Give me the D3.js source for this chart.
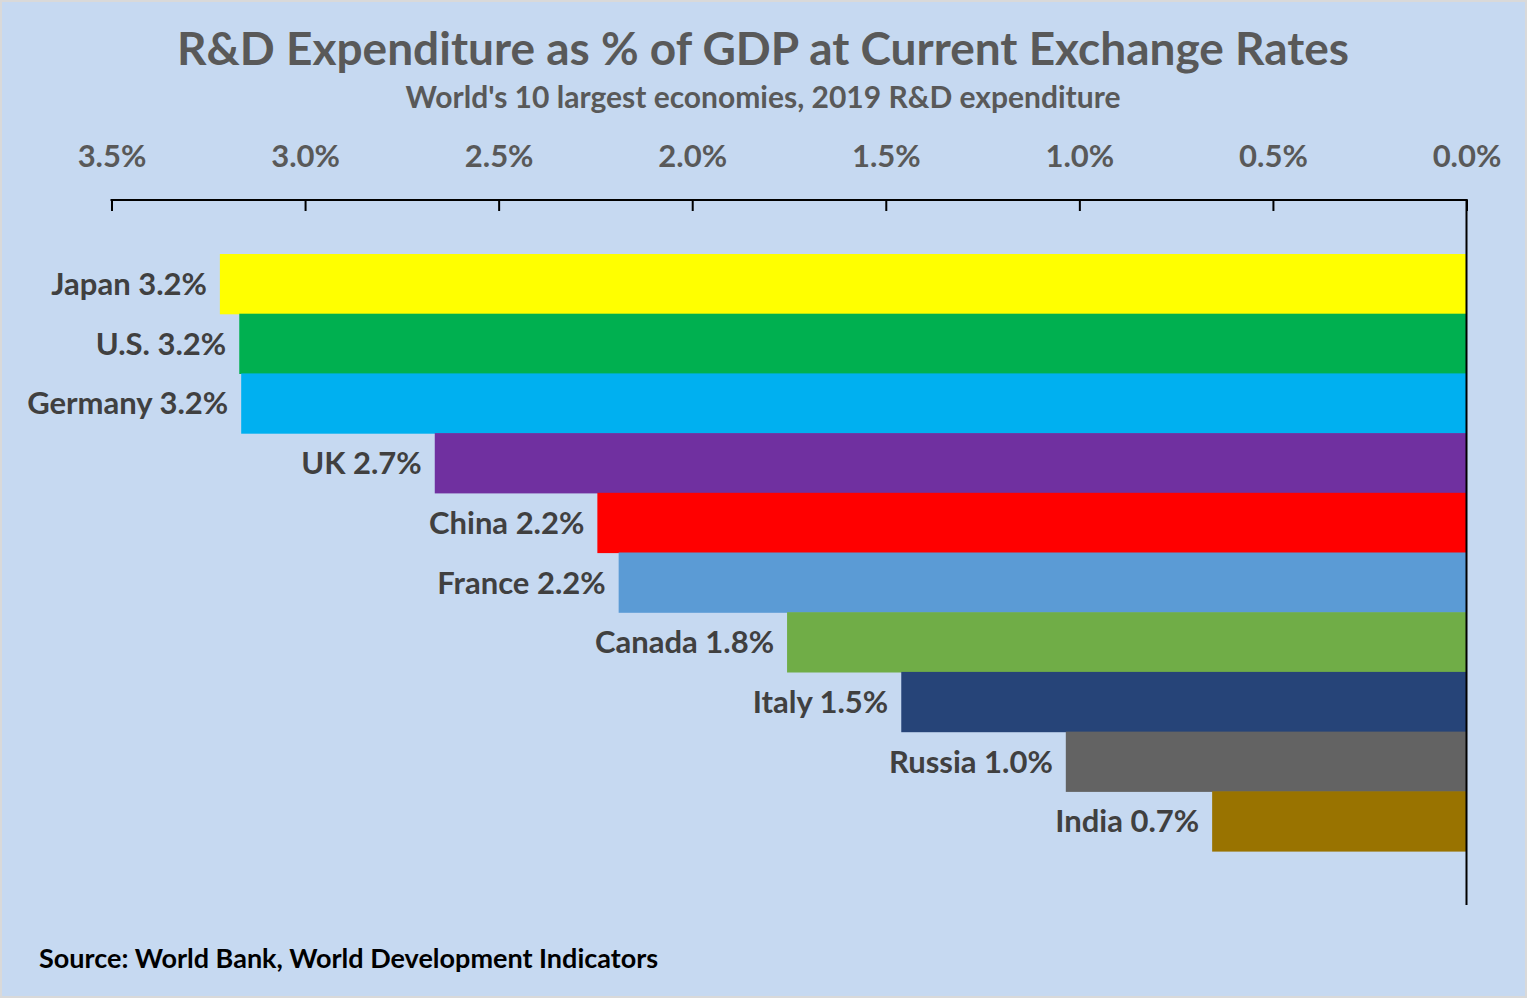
<!DOCTYPE html>
<html>
<head>
<meta charset="utf-8">
<script src="https://cdn.jsdelivr.net/npm/d3@7"></script>
<style>
  html, body { margin: 0; padding: 0; background: #ffffff; }
  svg { display: block; }
  text { font-family: Lato, "Open Sans", sans-serif; font-weight: 700; }
</style>
</head>
<body>
<svg id="chart" width="1527" height="998"></svg>
<script>
const countries = ["Japan", "U.S.", "Germany", "UK", "China", "France", "Canada", "Italy", "Russia", "India"];
const values = [3.22, 3.17, 3.165, 2.665, 2.245, 2.19, 1.755, 1.46, 1.035, 0.657];
const labelValues = ["3.2%", "3.2%", "3.2%", "2.7%", "2.2%", "2.2%", "1.8%", "1.5%", "1.0%", "0.7%"];
const colors = ["#ffff00", "#00b050", "#00b0f0", "#7030a0", "#ff0000", "#5b9bd5", "#70ad47", "#264478", "#636363", "#997300"];
const tickValues = [3.5, 3.0, 2.5, 2.0, 1.5, 1.0, 0.5, 0.0];
const titleText = "R&D Expenditure as % of GDP at Current Exchange Rates";
const subtitleText = "World's 10 largest economies, 2019 R&D expenditure";
const sourceText = "Source: World Bank, World Development Indicators";

const svg = d3.select("#chart");
const W = 1527, H = 998;

// background + frame
svg.append("rect").attr("x", 0).attr("y", 0).attr("width", W).attr("height", H).attr("fill", "#d9d9d9");
svg.append("rect").attr("x", 2).attr("y", 2).attr("width", W - 4).attr("height", H - 4).attr("fill", "#c6d9f1");

const x = d3.scaleLinear().domain([0, 3.5]).range([1466.5, 111.5]);
const y = d3.scaleBand().domain(countries).range([254, 851]).padding(0);

// bars
svg.append("g").selectAll("rect").data(countries).join("rect")
  .attr("x", (d, i) => x(values[i]))
  .attr("y", d => y(d))
  .attr("width", (d, i) => x(0) - x(values[i]))
  .attr("height", y.bandwidth() + 0.6)
  .attr("fill", (d, i) => colors[i]);

// bar labels
svg.append("g").selectAll("text").data(countries).join("text")
  .attr("x", (d, i) => x(values[i]) - 13)
  .attr("y", d => y(d) + y.bandwidth() / 2)
  .attr("dy", "0.36em")
  .attr("text-anchor", "end")
  .attr("fill", "#404040")
  .attr("font-size", 31)
  .text((d, i) => d + " " + labelValues[i]);

// top axis
const axis = d3.axisTop(x).tickValues(tickValues).tickSize(0).tickFormat(d => d3.format(".1f")(d) + "%");
const gAxis = svg.append("g").attr("transform", "translate(0,200)").call(axis);
gAxis.select(".domain").remove();
gAxis.selectAll(".tick text")
  .attr("y", -33)
  .attr("font-size", 31)
  .attr("font-family", "Lato, 'Open Sans', sans-serif")
  .attr("fill", "#595959");
gAxis.selectAll(".tick line").remove();
gAxis.selectAll(".tick").append("line")
  .attr("y1", 0).attr("y2", 11)
  .attr("stroke", "#000").attr("stroke-width", 2);
gAxis.append("line")
  .attr("x1", x(3.5) - 1).attr("x2", x(0) + 1)
  .attr("y1", 0).attr("y2", 0)
  .attr("stroke", "#000").attr("stroke-width", 2);

// vertical axis line at 0
svg.append("line")
  .attr("x1", x(0)).attr("x2", x(0))
  .attr("y1", 199).attr("y2", 905)
  .attr("stroke", "#000").attr("stroke-width", 2);

// titles
svg.append("text").attr("x", 763).attr("y", 65).attr("text-anchor", "middle")
  .attr("fill", "#595959").attr("font-size", 46).text(titleText);
svg.append("text").attr("x", 763).attr("y", 108).attr("text-anchor", "middle")
  .attr("fill", "#595959").attr("font-size", 30).text(subtitleText);
svg.append("text").attr("x", 39).attr("y", 968).attr("text-anchor", "start")
  .attr("fill", "#000000").attr("font-size", 27).text(sourceText);
</script>
</body>
</html>
